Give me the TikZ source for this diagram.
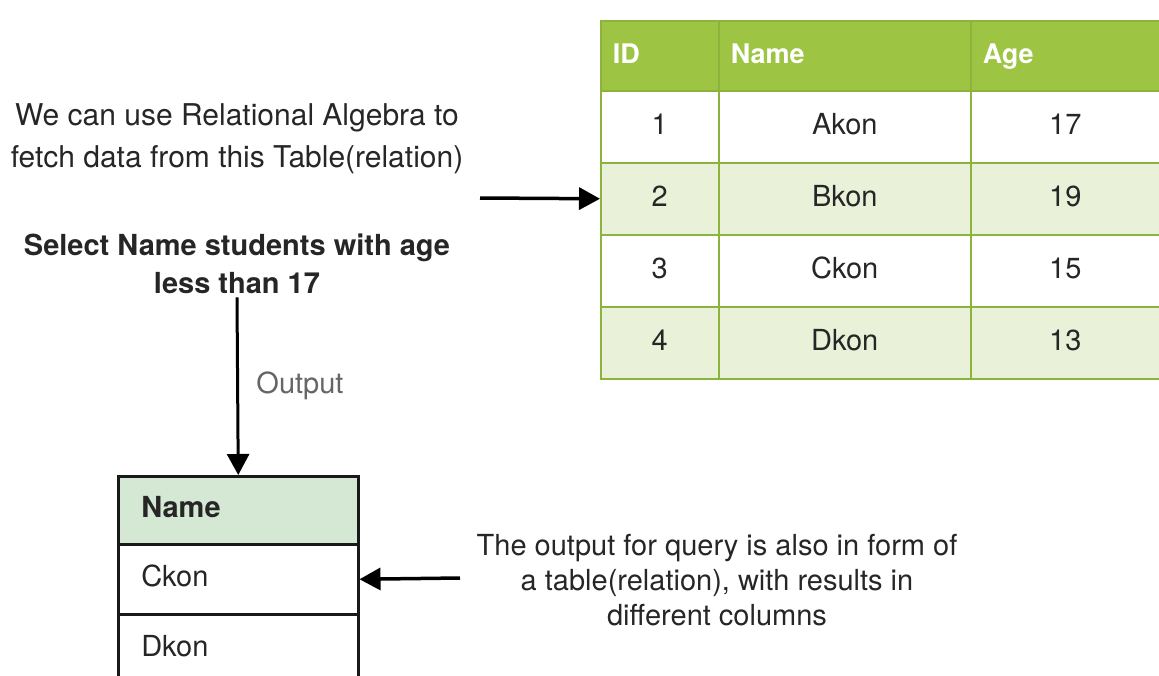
\documentclass[tikz,border=0pt]{standalone}
\usepackage{fontspec}
\setmainfont{TeX Gyre Heros}
\usetikzlibrary{positioning}
\usetikzlibrary{arrows.meta}
\definecolor{headgreen}{HTML}{9DC543}
\definecolor{linegreen}{HTML}{8CB43C}
\definecolor{stripegreen}{HTML}{E9F1D9}
\definecolor{namegreen}{HTML}{D5E8D4}
\definecolor{labelgray}{HTML}{666666}
\tikzset{
    bigtext/.style={
        font=\fontsize{29}{35}\selectfont,
        text=black!85
    },
    bigcell/.style={
        bigtext,
        draw=linegreen,
        line width=1.5pt,
        anchor=north west,
        inner sep=0pt,
        text height=21pt,
        text depth=6pt,
        minimum height=72pt
    },
    bighead/.style={
        bigcell,
        fill=headgreen,
        text=white,
        font=\fontsize{27}{35}\selectfont\bfseries,
        minimum height=70pt,
        inner xsep=12pt,
        align=left
    },
    outcell/.style={
        bigtext,
        draw=black!90,
        line width=2.5pt,
        anchor=north west,
        inner xsep=23pt,
        text width=194pt,
        text height=21pt,
        text depth=6pt,
        align=left,
        minimum height=70pt
    },
    arrowline/.style={
        line width=3.5pt,
        -{Triangle[length=21pt,width=22pt]}
    }
}
\begin{document}
\begin{tikzpicture}[x=1pt,y=-1pt]
\useasboundingbox (0,0) rectangle (1159,675);
% relation
\node[bighead, text width=94pt] (idh) at (600,20) {ID};
\node[bighead, text width=228pt] (nameh) at (718,20) {Name};
\node[bighead, text width=165pt] (ageh) at (970,20) {Age};
\foreach \id/\name/\age/\shade [count=\i] in {1/Akon/17/white, 2/Bkon/19/stripegreen, 3/Ckon/15/white, 4/Dkon/13/stripegreen}{
    \node[bigcell, fill=\shade, minimum width=118pt] (id\i) at (600,{90+72*(\i-1)}) {\id};
    \node[bigcell, fill=\shade, minimum width=252pt] (name\i) at (718,{90+72*(\i-1)}) {\name};
    \node[bigcell, fill=\shade, minimum width=189pt] (age\i) at (970,{90+72*(\i-1)}) {\age};
}
% texts
\node[bigtext, font=\fontsize{30}{42}\selectfont, align=center] (fetch) at (237,139) {We can use Relational Algebra to\\fetch data from this Table(relation)};
\coordinate (fetchstart) at (480,198);
\draw[arrowline] (fetchstart) -- (id2.west);
\node[bigtext, font=\fontsize{29}{38}\selectfont\bfseries, align=center] (query) at (237,264) {Select Name students with age\\less than 17};
% output relation
\node[outcell, fill=namegreen, font=\fontsize{29}{35}\selectfont\bfseries, minimum height=68pt] (outh) at (117,475) {Name};
\node[outcell] (out1) at (117,543) {Ckon};
\node[outcell] (out2) at (117,613) {Dkon};
\draw[arrowline, line width=3pt] (query.south) -- node[right=14pt, bigtext, text=labelgray]{Output} (outh.north);
\node[bigtext, font=\fontsize{29}{35}\selectfont, align=center] (result) at (717,580) {The output for query is also in form of\\a table(relation), with results in\\different columns};
\coordinate (resultstart) at (460,578);
\draw[arrowline] (resultstart) -- (out1.east);
\end{tikzpicture}
\end{document}
